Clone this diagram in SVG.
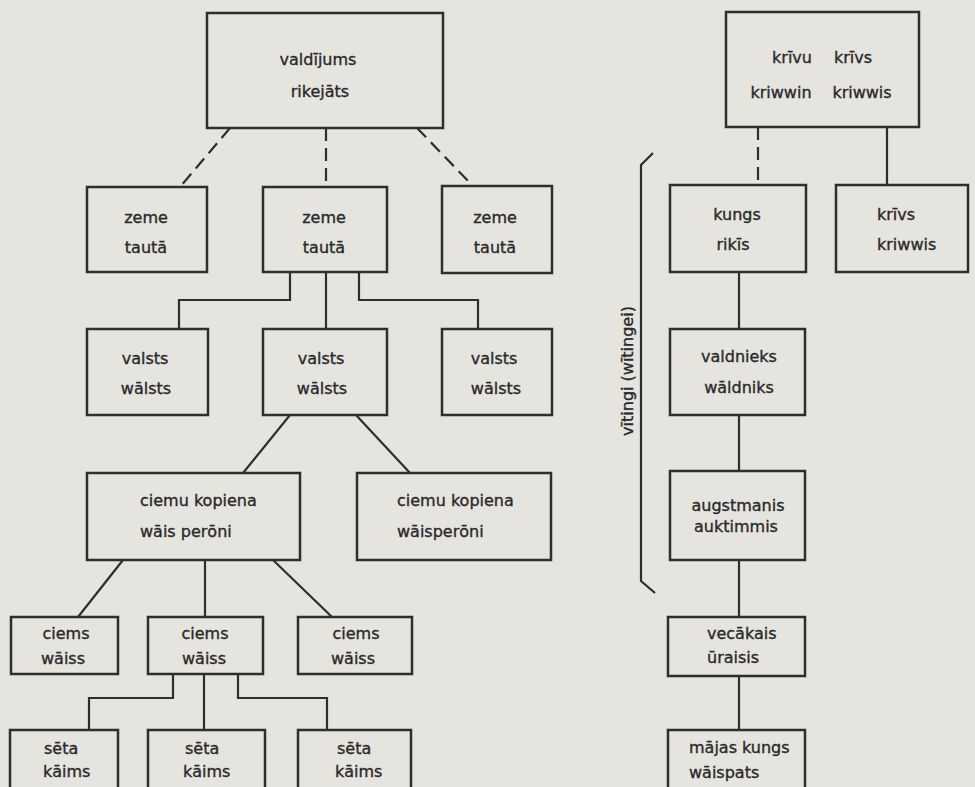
<svg xmlns="http://www.w3.org/2000/svg" width="975" height="787" viewBox="0 0 975 787">
<style>
.b{fill:none;stroke:#2e2e2e;stroke-width:2.5}
.c path{fill:none;stroke:#2e2e2e;stroke-width:2.2}
.c .d{stroke-dasharray:13 7}
text{font-family:"DejaVu Sans","Liberation Sans",sans-serif;font-size:16px;fill:#2a2a2a;stroke:#2a2a2a;stroke-width:0.35;text-anchor:middle}
.s{text-anchor:start}
</style>
<rect width="975" height="787" fill="#e6e4df"/>
<g class="c" id="connectors">
<path class="d" d="M230,128 L180,187"/>
<path class="d" d="M326,128 V187"/>
<path class="d" d="M417,128 L473,186"/>
<path class="d" d="M758,127 V185"/>
<path d="M887,127 V185"/>
<path d="M290,272 V300 H179 V329"/>
<path d="M326,272 V329"/>
<path d="M359,272 V300 H478 V329"/>
<path d="M739,272 V329"/>
<path d="M739,415 V471"/>
<path d="M739,560 V617"/>
<path d="M739,676 V730"/>
<path d="M290,415 L243,473"/>
<path d="M356,415 L410,473"/>
<path d="M123,560 L78,617"/>
<path d="M205,560 V617"/>
<path d="M273,560 L332,617"/>
<path d="M173,674 V698 H89 V730"/>
<path d="M204,674 V730"/>
<path d="M238,674 V698 H327 V730"/>
<path d="M653,153 L641,165 V581 L655,593"/>
</g>
<g id="vitingi"><text transform="translate(633,371) rotate(-90)">vītingi (wītingei)</text></g>
<g id="n1"><rect class="b" x="207" y="13" width="236" height="115"/><text x="318" y="65">valdījums</text><text x="320" y="97">rikejāts</text></g>
<g id="n2"><rect class="b" x="726" y="12" width="193" height="115"/><text x="792" y="63">krīvu</text><text x="853" y="63">krīvs</text><text x="781" y="98">kriwwin</text><text x="862" y="98">kriwwis</text></g>
<g id="n3"><rect class="b" x="87" y="187" width="120" height="85"/><text x="146" y="223">zeme</text><text x="146" y="253">tautā</text></g>
<g id="n4"><rect class="b" x="263" y="187" width="124" height="85"/><text x="324" y="223">zeme</text><text x="324" y="253">tautā</text></g>
<g id="n5"><rect class="b" x="442" y="186" width="110" height="87"/><text x="495" y="223">zeme</text><text x="495" y="253">tautā</text></g>
<g id="n6"><rect class="b" x="670" y="185" width="136" height="87"/><text x="737" y="220">kungs</text><text x="733" y="250">rikīs</text></g>
<g id="n7"><rect class="b" x="836" y="185" width="132" height="87"/><text class="s" x="877" y="220">krīvs</text><text class="s" x="877" y="250">kriwwis</text></g>
<g id="n8"><rect class="b" x="87" y="329" width="121" height="86"/><text x="145" y="364">valsts</text><text x="146" y="394">wālsts</text></g>
<g id="n9"><rect class="b" x="263" y="329" width="124" height="86"/><text x="321" y="364">valsts</text><text x="322" y="394">wālsts</text></g>
<g id="n10"><rect class="b" x="442" y="329" width="110" height="86"/><text x="494" y="364">valsts</text><text x="496" y="394">wālsts</text></g>
<g id="n11"><rect class="b" x="670" y="329" width="135" height="86"/><text x="739" y="362">valdnieks</text><text x="739" y="393">wāldniks</text></g>
<g id="n12"><rect class="b" x="87" y="473" width="213" height="87"/><text class="s" x="140" y="506">ciemu kopiena</text><text class="s" x="140" y="537">wāis perōni</text></g>
<g id="n13"><rect class="b" x="357" y="473" width="194" height="87"/><text class="s" x="397" y="506">ciemu kopiena</text><text class="s" x="397" y="537">wāisperōni</text></g>
<g id="n14"><rect class="b" x="670" y="471" width="135" height="89"/><text x="738" y="511">augstmanis</text><text x="736" y="532">auktimmis</text></g>
<g id="n15"><rect class="b" x="11" y="617" width="107" height="57"/><text x="66" y="639">ciems</text><text x="63" y="664">wāiss</text></g>
<g id="n16"><rect class="b" x="148" y="617" width="115" height="57"/><text x="205" y="639">ciems</text><text x="204" y="664">wāiss</text></g>
<g id="n17"><rect class="b" x="298" y="617" width="114" height="57"/><text x="356" y="639">ciems</text><text x="353" y="664">wāiss</text></g>
<g id="n18"><rect class="b" x="668" y="617" width="137" height="59"/><text class="s" x="707" y="639">vecākais</text><text class="s" x="707" y="663">ūraisis</text></g>
<g id="n19"><rect class="b" x="10" y="730" width="108" height="70"/><text class="s" x="44" y="754">sēta</text><text class="s" x="43" y="777">kāims</text></g>
<g id="n20"><rect class="b" x="148" y="730" width="117" height="70"/><text class="s" x="185" y="754">sēta</text><text class="s" x="183" y="777">kāims</text></g>
<g id="n21"><rect class="b" x="298" y="730" width="113" height="70"/><text class="s" x="337" y="754">sēta</text><text class="s" x="335" y="777">kāims</text></g>
<g id="n22"><rect class="b" x="668" y="730" width="137" height="70"/><text class="s" x="689" y="753">mājas kungs</text><text class="s" x="689" y="778">wāispats</text></g>
</svg>
